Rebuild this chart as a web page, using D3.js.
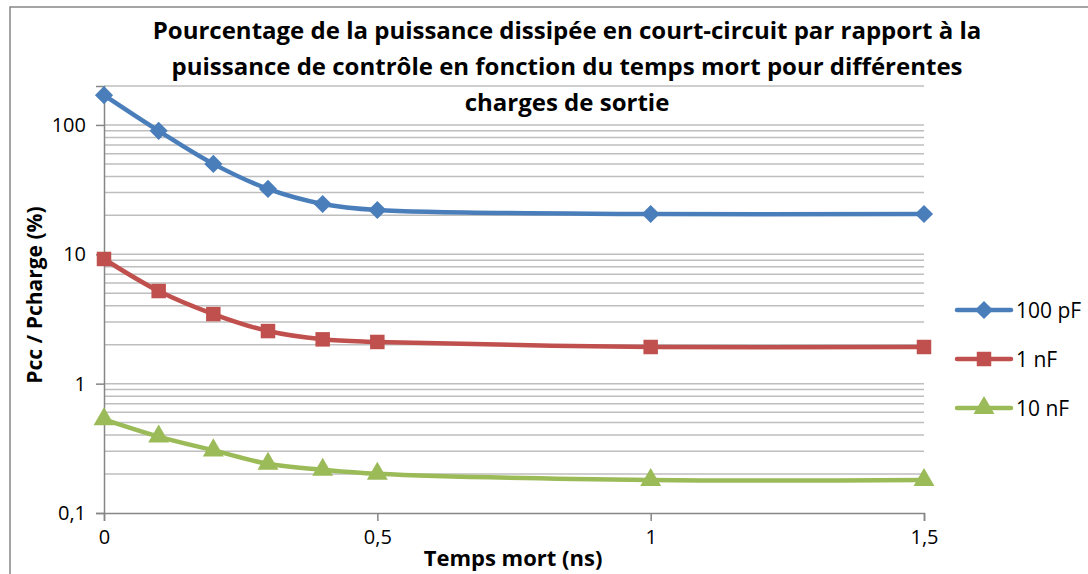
<!DOCTYPE html>
<html lang="fr">
<head>
<meta charset="UTF-8">
<title>Pcc / Pcharge</title>
<script src="https://d3js.org/d3.v7.min.js"></script>
<style>
  body { margin: 0; background: #fff; }
  text { font-family: "Open Sans", Lato, sans-serif; fill: #000; }
</style>
</head>
<body>
<div id="chart"></div>
<script>
// temps mort (ns)
const deadTimes = [0, 0.1, 0.2, 0.3, 0.4, 0.5, 1, 1.5];
// Pcc / Pcharge (%) per output load
const pf100 = [170, 90, 50, 32, 24.5, 22, 20.5, 20.5];
const nf1 = [9.2, 5.2, 3.45, 2.55, 2.2, 2.1, 1.92, 1.92];
const nf10 = [0.53, 0.39, 0.305, 0.24, 0.216, 0.201, 0.18, 0.18];
const seriesNames = ["100 pF", "1 nF", "10 nF"];
const xTicks = [0, 0.5, 1, 1.5];
const yTicks = [0.1, 1, 10, 100];

const colors = ["#4A7EBB", "#C0504D", "#9BBB59"];
const symbols = [d3.symbolDiamond2, d3.symbolSquare, d3.symbolTriangle];
const seriesData = [pf100, nf1, nf10];

const width = 1088, height = 574;
const svg = d3.select("#chart").append("svg")
  .attr("width", width).attr("height", height);

// outer frame
svg.append("rect")
  .attr("x", 10).attr("y", 7).attr("width", 1090).attr("height", 600)
  .attr("fill", "none").attr("stroke", "#868686").attr("stroke-width", 1.5);

const x = d3.scaleLinear().domain([0, 1.5]).range([104, 924]);
const y = d3.scaleLog().domain([0.1, 200]).range([513, 86]);

// gridlines: every log step
const grid = [];
for (let dec = 0.1; dec < 200; dec *= 10) {
  for (let k = 1; k <= 9; k++) {
    const v = +(dec * k).toPrecision(3);
    if (v > 0.1 && v <= 200) grid.push(v);
  }
}
svg.append("g").selectAll("line").data(grid).enter().append("line")
  .attr("x1", x(0)).attr("x2", x(1.5))
  .attr("y1", d => y(d)).attr("y2", d => y(d))
  .attr("stroke", "#BEBEBE").attr("stroke-width", 1.5);

// axes
const fmt = d => String(d).replace(".", ",");
const xAxis = svg.append("g").attr("transform", `translate(0,${y(0.1)})`)
  .call(d3.axisBottom(x).tickValues(xTicks).tickSize(8).tickPadding(9).tickFormat(fmt));
const yAxis = svg.append("g").attr("transform", `translate(${x(0)},0)`)
  .call(d3.axisLeft(y).tickValues(yTicks).tickSize(8).tickPadding(10).tickFormat(fmt));
[xAxis, yAxis].forEach(a => {
  a.select(".domain").attr("stroke", "#868686").attr("stroke-width", 1.5);
  a.selectAll(".tick line").attr("stroke", "#868686").attr("stroke-width", 1.5);
  a.selectAll(".tick text").style("font-family", "'Open Sans', sans-serif")
    .style("font-size", "20px").attr("fill", "#000");
});

// series
const line = d3.line()
  .x((d, i) => x(deadTimes[i]))
  .y(d => y(d))
  .curve(d3.curveCatmullRom.alpha(0.5));

seriesData.forEach((vals, s) => {
  svg.append("path").datum(vals)
    .attr("d", line)
    .attr("fill", "none").attr("stroke", colors[s]).attr("stroke-width", 4.5)
    .attr("stroke-linejoin", "round");
  svg.append("g").selectAll("path").data(vals).enter().append("path")
    .attr("transform", (d, i) => `translate(${x(deadTimes[i])},${y(d)})`)
    .attr("d", d3.symbol().type(symbols[s]).size(s === 2 ? 190 : 210))
    .attr("fill", colors[s]);
});

// title
const title = [
  "Pourcentage de la puissance dissipée en court-circuit par rapport à la",
  "puissance de contrôle en fonction du temps mort pour différentes",
  "charges de sortie"
];
svg.append("text")
  .attr("text-anchor", "middle")
  .style("font-size", "24px").style("font-weight", "bold")
  .selectAll("tspan").data(title).enter().append("tspan")
  .attr("x", 567).attr("y", (d, i) => 39 + i * 36).text(d => d);

// axis titles
svg.append("text").attr("x", 513).attr("y", 566).attr("text-anchor", "middle")
  .style("font-size", "22px").style("font-weight", "bold").text("Temps mort (ns)");
svg.append("text").attr("transform", "translate(42,295) rotate(-90)")
  .attr("text-anchor", "middle")
  .style("font-size", "21px").style("font-weight", "bold").text("Pcc / Pcharge (%)");

// legend
const legend = svg.append("g").selectAll("g").data(seriesNames).enter().append("g")
  .attr("transform", (d, i) => `translate(957,${310 + i * 49})`);
legend.append("line").attr("x1", 0).attr("x2", 54)
  .attr("stroke", (d, i) => colors[i]).attr("stroke-width", 4.5).attr("stroke-linecap", "round");
legend.append("path").attr("transform", "translate(27,0)")
  .attr("d", (d, i) => d3.symbol().type(symbols[i]).size(i === 2 ? 190 : 210)())
  .attr("fill", (d, i) => colors[i]);
legend.append("text").attr("x", 59).attr("y", 8)
  .style("font-size", "21px").text(d => d);
</script>
</body>
</html>
